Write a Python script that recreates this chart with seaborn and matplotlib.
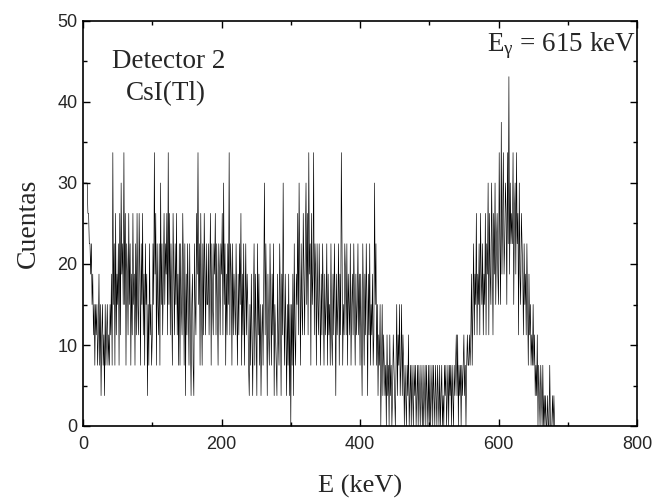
import numpy as np
import pandas as pd
import matplotlib
matplotlib.use("Agg")
import matplotlib.pyplot as plt
from matplotlib.ticker import MultipleLocator
import seaborn as sns

# spectrum: 1 keV channels, counts come in steps of 3.75
channel_width = 1
count_step = 3.75
levels = [
    8, 8, 8, 8, 8, 8, 8, 7, 7, 6, 6, 5, 6, 4, 5, 3, 4, 2, 4, 3,
    4, 2, 3, 5, 2, 4, 1, 3, 4, 2, 3, 1, 4, 2, 3, 4, 2, 3, 2, 4,
    3, 5, 2, 9, 4, 6, 2, 7, 3, 5, 4, 6, 2, 7, 3, 8, 5, 6, 4, 9,
    4, 7, 2, 6, 5, 3, 7, 4, 6, 2, 5, 3, 7, 4, 5, 2, 6, 3, 7, 4,
    3, 7, 5, 2, 6, 4, 7, 3, 5, 2, 6, 4, 5, 1, 4, 2, 6, 3, 4, 2,
    3, 6, 4, 9, 5, 7, 2, 6, 4, 3, 6, 2, 8, 4, 6, 3, 5, 7, 4, 6,
    5, 7, 3, 9, 4, 7, 3, 6, 4, 2, 7, 5, 3, 6, 4, 7, 3, 5, 2, 6,
    2, 6, 4, 3, 7, 5, 2, 6, 1, 5, 3, 6, 4, 2, 6, 3, 1, 4, 5, 2,
    1, 6, 4, 3, 7, 5, 9, 4, 6, 2, 7, 4, 2, 6, 3, 7, 5, 3, 6, 4,
    4, 6, 3, 5, 7, 2, 6, 4, 3, 6, 5, 7, 3, 6, 4, 2, 6, 5, 3, 6,
    5, 7, 3, 8, 4, 6, 2, 5, 3, 6, 4, 9, 3, 6, 5, 2, 6, 3, 5, 4,
    3, 6, 4, 2, 5, 3, 6, 4, 7, 2, 5, 3, 6, 2, 4, 6, 3, 5, 4, 2,
    1, 4, 2, 5, 3, 1, 4, 6, 2, 5, 3, 1, 6, 3, 5, 2, 4, 1, 3, 4,
    2, 5, 8, 3, 6, 4, 1, 5, 3, 2, 6, 4, 2, 5, 3, 6, 1, 4, 3, 2,
    1, 5, 3, 2, 6, 4, 1, 5, 3, 8, 4, 2, 5, 3, 1, 4, 2, 5, 1, 4,
    0, 4, 2, 5, 1, 6, 3, 2, 5, 4, 7, 3, 8, 5, 2, 6, 4, 3, 7, 5,
    3, 6, 8, 4, 7, 3, 9, 5, 6, 2, 7, 4, 5, 9, 3, 6, 5, 2, 6, 4,
    3, 6, 4, 2, 5, 3, 6, 4, 2, 5, 3, 4, 6, 2, 5, 3, 4, 2, 6, 3,
    2, 5, 3, 6, 4, 1, 5, 3, 4, 6, 2, 5, 3, 9, 6, 2, 4, 3, 6, 5,
    3, 6, 2, 5, 4, 3, 6, 2, 4, 5, 3, 6, 4, 2, 5, 3, 4, 6, 3, 5,
    2, 5, 3, 1, 6, 4, 2, 5, 3, 6, 4, 1, 5, 3, 6, 2, 4, 3, 5, 2,
    3, 8, 4, 6, 2, 4, 1, 3, 2, 4, 0, 2, 4, 1, 3, 2, 1, 2, 0, 3,
    1, 2, 0, 3, 1, 2, 0, 1, 3, 2, 1, 0, 2, 4, 1, 3, 2, 4, 1, 2,
    4, 1, 3, 2, 0, 2, 1, 0, 2, 1, 3, 0, 1, 2, 0, 2, 1, 0, 2, 1,
    2, 0, 1, 2, 0, 2, 1, 0, 2, 1, 0, 2, 0, 1, 2, 0, 2, 1, 0, 2,
    0, 2, 0, 1, 2, 0, 2, 1, 0, 2, 1, 0, 2, 1, 0, 2, 0, 1, 2, 0,
    1, 0, 2, 1, 2, 0, 1, 2, 0, 2, 1, 2, 0, 2, 1, 0, 2, 1, 2, 3,
    1, 3, 0, 2, 1, 2, 0, 2, 1, 2, 3, 1, 2, 0, 2, 3, 2, 2, 3, 2,
    3, 5, 2, 4, 6, 3, 5, 4, 7, 3, 5, 4, 6, 3, 7, 5, 4, 6, 3, 5,
    4, 7, 3, 6, 5, 8, 3, 7, 5, 4, 8, 6, 3, 7, 5, 8, 4, 6, 7, 5,
    4, 9, 6, 4, 10, 5, 7, 9, 5, 6, 8, 7, 4, 9, 6, 11.5, 5, 8, 6, 7,
    6, 9, 4, 7, 8, 5, 9, 6, 7, 3, 8, 5, 4, 7, 6, 5, 3, 6, 4, 5,
    3, 6, 4, 2, 5, 3, 4, 2, 3, 2, 4, 2, 3, 1, 2, 1, 3, 0, 2, 1,
    0, 2, 1, 0, 2, 0, 1, 0, 1, 0, 0, 1, 0, 0, 2, 0, 0, 0, 1, 0,
    1, 0, 0, 0, 0, 0, 0, 0, 0, 0,
]

energy = np.arange(len(levels)) * channel_width
counts = np.array(levels) * count_step
df = pd.DataFrame({"E": energy, "Cuentas": counts})

sns.set_style("ticks")
plt.rcParams["font.family"] = ["Liberation Serif", "DejaVu Serif"]
plt.rcParams["mathtext.fontset"] = "custom"
plt.rcParams["mathtext.rm"] = "Liberation Serif"
plt.rcParams["mathtext.it"] = "Liberation Serif:italic"

fig = plt.figure(figsize=(6.54, 5.0), dpi=100)
ax = fig.add_axes([0.127, 0.148, 0.847, 0.81])

sns.lineplot(data=df, x="E", y="Cuentas", estimator=None, sort=False,
             color="black", linewidth=0.45, ax=ax)

ax.set_xlim(0, 800)
ax.set_ylim(0, 50)
ax.xaxis.set_major_locator(MultipleLocator(200))
ax.xaxis.set_minor_locator(MultipleLocator(100))
ax.yaxis.set_major_locator(MultipleLocator(10))
ax.yaxis.set_minor_locator(MultipleLocator(5))
ax.tick_params(which="both", direction="in", top=True, right=True, color="black")
ax.tick_params(which="major", length=5, width=1)
ax.tick_params(which="minor", length=3, width=1)
ax.tick_params(axis="x", pad=7)
ax.tick_params(axis="y", pad=4)
for lab in ax.get_xticklabels() + ax.get_yticklabels():
    lab.set_family("Liberation Sans")
    lab.set_fontsize(13)
for s in ax.spines.values():
    s.set_color("black")
    s.set_linewidth(1.2)

ax.set_xlabel("E (keV)", fontsize=19, labelpad=16)
ax.set_ylabel("Cuentas", fontsize=20, labelpad=12)

ax.text(124, 45.0, "Detector 2", fontsize=19.5, ha="center", va="center")
ax.text(120, 41.0, "CsI(Tl)", fontsize=19.5, ha="center", va="center")
ax.text(798, 46.9, r"E$_{\rm γ}$ = 615 keV", fontsize=19.5, ha="right", va="center")

fig.savefig("out.png", dpi=100)
